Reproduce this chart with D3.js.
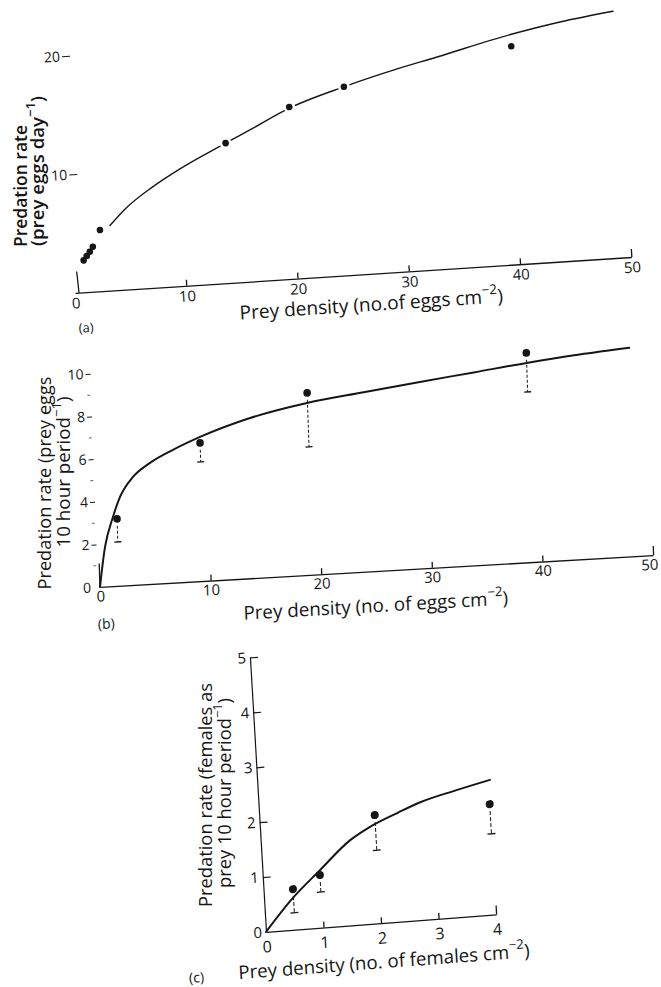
<!DOCTYPE html>
<html>
<head>
<meta charset="utf-8">
<script src="https://cdn.jsdelivr.net/npm/d3@7"></script>
<style>
html,body{margin:0;padding:0;background:#fff;}
svg{display:block;}
text{font-family:"Open Sans","DejaVu Sans",sans-serif;fill:#151515;}
</style>
</head>
<body>
<svg id="chart" width="661" height="987"></svg>
<script>
// ---------- Panel (a) data ----------
const aXTicks = [0, 10, 20, 30, 40, 50];
const aYTicks = [10, 20];
const aDensity = [0.95, 1.25, 1.55, 1.85, 2.58, 14.3, 20.2, 25.2, 40.4];
const aRate    = [2.7, 3.05, 3.4, 3.8, 5.17, 11.8, 14.5, 15.9, 18.4];
const aFitDensity = [3.5, 5, 7.5, 10, 14.3, 16.8, 20.2, 25.2, 30, 33.7, 40.4, 45, 49.7];
const aFitRate    = [5.5, 6.85, 8.5, 9.85, 11.8, 12.9, 14.4, 15.9, 17.1, 17.9, 19.4, 20.2, 20.8];

// ---------- Panel (b) data ----------
const bXTicks = [0, 10, 20, 30, 40, 50];
const bYTicks = [0, 2, 4, 6, 8, 10];
const bYMinor = [1, 3, 5, 7, 9];
const bDensity = [1.75, 9.48, 19.3, 39.2];
const bRate    = [3.14, 6.47, 8.52, 9.8];
const bLower   = [2.06, 5.58, 5.99, 7.97];
const bFitDensity = [0, 0.58, 1.39, 2.09, 3.32, 4.9, 7.02, 9.5, 14.07, 19.26, 24.4, 29.5, 34.4, 39.2, 44, 48.5];
const bFitRate    = [0, 1.86, 3.24, 4.16, 5.06, 5.67, 6.22, 6.75, 7.5, 8.05, 8.4, 8.73, 9.03, 9.33, 9.58, 9.76];

// ---------- Panel (c) data ----------
const cXTicks = [0, 1, 2, 3, 4];
const cYTicks = [0, 1, 2, 3, 4, 5];
const cDensity = [0.51, 0.99, 2.0, 4.0];
const cRate    = [0.74, 0.96, 1.97, 2.01];
const cLower   = [0.31, 0.65, 1.33, 1.47];
const cFitDensity = [0, 0.5, 1.0, 1.55, 1.9, 2.4, 2.8, 3.4, 4.03];
const cFitRate    = [0, 0.58, 1.05, 1.55, 1.76, 1.98, 2.14, 2.3, 2.45];

const INK = "#151515";
const svg = d3.select("#chart");
const intFmt = d3.format("d");

function frame(ox, oy, tx, ty) {
  const r = Math.PI / 180;
  return svg.append("g").attr("transform",
    `matrix(${Math.cos(tx*r)},${-Math.sin(tx*r)},${Math.sin(ty*r)},${Math.cos(ty*r)},${ox},${oy})`);
}
function styleAxis(sel, fs, sw) {
  sel.attr("font-family", '"Open Sans","DejaVu Sans",sans-serif').attr("font-size", fs);
  sel.selectAll("path").attr("stroke", INK).attr("stroke-width", sw);
  sel.selectAll("line").attr("stroke", INK).attr("stroke-width", sw);
  sel.selectAll("text").attr("fill", INK).attr("font-size", fs).style("font-size", fs + "px");
}
function rich(parent, parts) {
  const t = parent.append("text");
  parts.forEach(p => {
    if (typeof p === "string") t.append("tspan").text(p);
    else t.append("tspan").attr("baseline-shift", "super").attr("font-size", "70%").text(p.sup);
  });
  return t;
}
function fit(t, target) {
  const fs = parseFloat(t.attr("font-size"));
  const w = t.node().getComputedTextLength();
  t.attr("font-size", (fs * target / w).toFixed(2));
}
function yTitle(cx, cy, parts, len, weight) {
  const t = rich(svg, parts)
    .attr("transform", `translate(${cx},${cy}) rotate(-90)`)
    .attr("text-anchor", "middle").attr("dy", "0.35em")
    .attr("font-size", 14).attr("font-weight", weight || 400);
  fit(t, len);
  return t;
}
function curve(g, x, y, xs, ys, sw) {
  const line = d3.line().x(d => x(d[0])).y(d => y(d[1])).curve(d3.curveMonotoneX);
  g.append("path").datum(d3.zip(xs, ys)).attr("d", line)
    .attr("fill", "none").attr("stroke", INK).attr("stroke-width", sw).attr("stroke-linecap", "round");
}
function dots(g, x, y, xs, ys, r, halo) {
  const data = d3.zip(xs, ys);
  if (halo) g.append("g").selectAll("circle").data(data).join("circle")
    .attr("cx", d => x(d[0])).attr("cy", d => y(d[1])).attr("r", r + halo).attr("fill", "#fff");
  g.append("g").selectAll("circle").data(data).join("circle")
    .attr("cx", d => x(d[0])).attr("cy", d => y(d[1])).attr("r", r).attr("fill", INK);
}
function errBars(g, x, y, xs, ys, lows, r, cap, dash) {
  const data = d3.zip(xs, ys, lows);
  const eg = g.append("g").attr("stroke", INK).attr("stroke-width", 1);
  eg.selectAll("line.v").data(data).join("line").attr("class", "v")
    .attr("x1", d => x(d[0])).attr("x2", d => x(d[0]))
    .attr("y1", d => y(d[1]) + r + 3).attr("y2", d => y(d[2]))
    .attr("stroke-dasharray", dash);
  eg.selectAll("line.c").data(data).join("line").attr("class", "c")
    .attr("x1", d => x(d[0]) - cap / 2).attr("x2", d => x(d[0]) + cap / 2)
    .attr("y1", d => y(d[2])).attr("y2", d => y(d[2])).attr("stroke-width", 1.3);
}

// ================= Panel (a) =================
(function () {
  const g = frame(75, 293, 3.7, 3.5);
  const x = d3.scaleLinear().domain([0, 50]).range([0, 557.5]);
  const y = d3.scaleLinear().domain([0, 25]).range([0, -296.25]);

  const xa = g.append("g").call(d3.axisBottom(x).tickValues(aXTicks).tickFormat(intFmt)
    .tickSizeInner(-6).tickSizeOuter(0).tickPadding(5));
  styleAxis(xa, 15, 1.3);
  xa.selectAll(".tick").filter(d => d === 0).select("line").remove();
  xa.selectAll(".tick").filter(d => d === 50).select("line").attr("y2", -8);

  const ya = g.append("g").attr("transform", "translate(9.5,0)")
    .call(d3.axisLeft(y).tickValues(aYTicks).tickFormat(intFmt).tickSize(8).tickPadding(2));
  styleAxis(ya, 14, 1);
  ya.select(".domain").remove();

  // short stub of the vertical axis at the origin
  g.append("line").attr("x1", 4).attr("x2", 3).attr("y1", y(0)).attr("y2", y(1.8))
    .attr("stroke", INK).attr("stroke-width", 1.3);

  curve(g, x, y, aFitDensity, aFitRate, 1.4);
  dots(g, x, y, aDensity, aRate, 3.3, 2.6);

  const t = rich(g, ["Prey density (no.of eggs cm", {sup: "\u22122"}, ")"])
    .attr("x", 295).attr("y", 37).attr("text-anchor", "middle").attr("font-size", 14);
  fit(t, 264);
  g.append("text").attr("x", 9).attr("y", 40).attr("text-anchor", "middle")
    .attr("font-size", 13).text("(a)");

  yTitle(21, 186, ["Predation rate"], 122, 600);
  yTitle(37, 171, ["(prey eggs day", {sup: "\u22121"}, ")"], 150, 600);
})();

// ================= Panel (b) =================
(function () {
  const g = frame(100, 587, 3.3, 2.0);
  const x = d3.scaleLinear().domain([0, 50]).range([0, 554]);
  const y = d3.scaleLinear().domain([0, 11.5]).range([0, -245.5]);

  const xa = g.append("g").call(d3.axisBottom(x).tickValues(bXTicks).tickFormat(intFmt)
    .tickSizeInner(-6).tickSizeOuter(0).tickPadding(4));
  styleAxis(xa, 15, 1.3);
  xa.selectAll(".tick").filter(d => d === 0).select("line").remove();
  xa.selectAll(".tick").filter(d => d === 50).select("line").attr("y2", -9);
  xa.selectAll(".tick").filter(d => d === 50).select("text").attr("dx", -4);

  const ya = g.append("g").attr("transform", "translate(-2,0)")
    .call(d3.axisLeft(y).tickValues(bYTicks).tickFormat(intFmt).tickSize(5).tickPadding(2));
  styleAxis(ya, 14, 1);
  ya.select(".domain").remove();
  ya.selectAll(".tick").filter(d => d === 0).select("line").remove();

  g.append("g").selectAll("line").data(bYMinor).join("line")
    .attr("x1", -6).attr("x2", -3).attr("y1", d => y(d)).attr("y2", d => y(d))
    .attr("stroke", "#666").attr("stroke-width", 1);

  // stub of the vertical axis at the origin
  g.append("line").attr("x1", 0).attr("x2", 0).attr("y1", y(0)).attr("y2", y(1.1))
    .attr("stroke", INK).attr("stroke-width", 1.3);

  curve(g, x, y, bFitDensity, bFitRate, 2);
  errBars(g, x, y, bDensity, bRate, bLower, 3.8, 7, "3,2");
  dots(g, x, y, bDensity, bRate, 3.8, 0);

  const t = rich(g, ["Prey density (no. of eggs cm", {sup: "\u22122"}, ")"])
    .attr("x", 275).attr("y", 41).attr("text-anchor", "middle").attr("font-size", 14);
  fit(t, 265);
  g.append("text").attr("x", 5).attr("y", 42).attr("text-anchor", "middle")
    .attr("font-size", 14).text("(b)");

  yTitle(45, 483, ["Predation rate (prey eggs"], 213, 400);
  yTitle(63, 472, ["10 hour period", {sup: "\u22121"}, ")"], 151, 400);
})();

// ================= Panel (c) =================
(function () {
  const g = frame(266, 932, 4.35, 3.35);
  const x = d3.scaleLinear().domain([0, 4]).range([0, 230.8]);
  const y = d3.scaleLinear().domain([0, 5]).range([0, -275]);

  const xa = g.append("g").call(d3.axisBottom(x).tickValues(cXTicks).tickFormat(intFmt)
    .tickSizeInner(-6).tickSizeOuter(0).tickPadding(9));
  styleAxis(xa, 16, 1.3);
  xa.selectAll(".tick").filter(d => d === 0).select("line").remove();
  xa.selectAll(".tick").filter(d => d === 4).select("line").attr("y2", -9);

  const ya = g.append("g")
    .call(d3.axisLeft(y).tickValues(cYTicks).tickFormat(intFmt)
      .tickSizeInner(-8).tickSizeOuter(0).tickPadding(4));
  styleAxis(ya, 15, 1.2);
  ya.selectAll(".tick").filter(d => d === 0).select("line").remove();

  curve(g, x, y, cFitDensity, cFitRate, 2);
  errBars(g, x, y, cDensity, cRate, cLower, 4, 8, "4,2");
  dots(g, x, y, cDensity, cRate, 4, 0);

  const t = rich(g, ["Prey density (no. of females cm", {sup: "\u22122"}, ")"])
    .attr("x", 116).attr("y", 45).attr("text-anchor", "middle").attr("font-size", 15);
  fit(t, 292);
  g.append("text").attr("x", -72).attr("y", 45).attr("text-anchor", "middle")
    .attr("font-size", 14).text("(c)");

  yTitle(206, 795, ["Predation rate (females as"], 224, 400);
  yTitle(225, 793, ["prey 10 hour period", {sup: "\u22121"}, ")"], 190, 400);
})();
</script>
</body>
</html>
